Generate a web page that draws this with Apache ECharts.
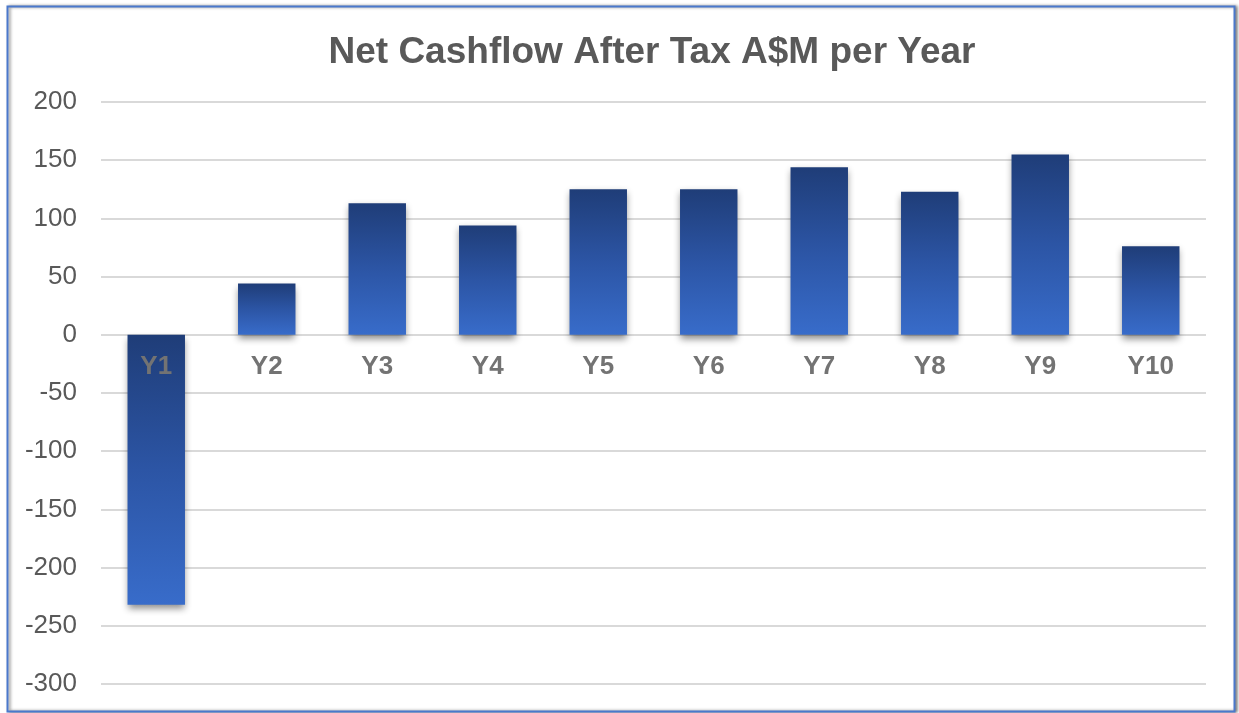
<!DOCTYPE html>
<html>
<head>
<meta charset="utf-8">
<script src="https://cdn.jsdelivr.net/npm/echarts@6/dist/echarts.min.js"></script>
<style>
html,body{margin:0;padding:0;background:#fff;}
#c{width:1239px;height:713px;}
</style>
</head>
<body>
<div id="c"></div>
<script>
var categories = ['Y1','Y2','Y3','Y4','Y5','Y6','Y7','Y8','Y9','Y10'];
var values = [-232, 44, 113, 94, 125, 125, 144, 123, 155, 76];
var yTicks = {min: -300, max: 200, interval: 50};

var chart = echarts.init(document.getElementById('c'), null, {renderer: 'canvas'});
var grad = new echarts.graphic.LinearGradient(0, 0, 0, 1, [
  {offset: 0, color: '#1f3d78'},
  {offset: 0.5, color: '#2c55a5'},
  {offset: 1, color: '#386cca'}
]);
chart.setOption({
  animation: false,
  backgroundColor: '#fff',
  title: {
    text: 'Net Cashflow After Tax A$M per Year',
    left: 647, top: 29, textAlign: 'center',
    textStyle: {fontFamily: 'Liberation Sans', fontWeight: 'bold', fontSize: 37, color: '#595959'}
  },
  graphic: [{
    type: 'rect', z: -1,
    shape: {x: 7.5, y: 6.5, width: 1227, height: 705},
    style: {fill: '#fff', stroke: '#4a78cc', lineWidth: 2, shadowColor: 'rgba(0,0,0,0.45)', shadowBlur: 3, shadowOffsetX: 2, shadowOffsetY: 0}
  }],
  grid: {left: 101, right: 33, top: 102, bottom: 29, containLabel: false, outerBoundsMode: 'none'},
  xAxis: {
    type: 'category', data: categories, z: 5, offset: -349,
    axisLine: {show: false, onZero: false}, axisTick: {show: false},
    axisLabel: {fontFamily: 'Liberation Sans', fontWeight: 'bold', fontSize: 26, color: '#737373', margin: 19}
  },
  yAxis: {
    type: 'value', min: yTicks.min, max: yTicks.max, interval: yTicks.interval,
    axisLine: {show: false}, axisTick: {show: false},
    axisLabel: {fontFamily: 'Liberation Sans', fontSize: 26, color: '#595959', margin: 24},
    splitLine: {lineStyle: {color: '#d9d9d9', width: 2}}
  },
  series: [{
    type: 'bar', data: values, barWidth: '52%',
    itemStyle: {color: grad, shadowColor: 'rgba(0,0,0,0.45)', shadowBlur: 7, shadowOffsetY: 4}
  }]
});
</script>
</body>
</html>
